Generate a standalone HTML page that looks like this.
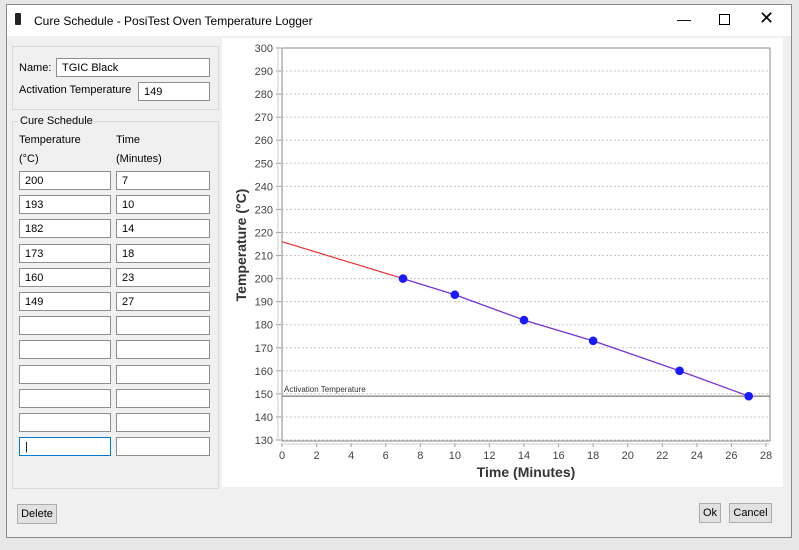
<!DOCTYPE html>
<html><head><style>
body{margin:0;width:799px;height:550px;background:#e8e8e8;font-family:"Liberation Sans",sans-serif;position:relative;overflow:hidden}
.a{position:absolute}
.win{left:6px;top:4px;width:784px;height:532px;background:#f0f0f0;border:1px solid #8a8a8a}
.tb{left:0;top:0;width:784px;height:31px;background:#fff}
.in{position:absolute;height:18px;background:#fff;border:1px solid #8e8e8e;font-size:11px;line-height:18px;padding-left:5px;box-sizing:border-box;height:19px}
.lb{position:absolute;font-size:11px;color:#000}
.btn{position:absolute;height:20px;border:1px solid #adadad;background:#e1e1e1;font-size:11px;line-height:19px;text-align:center;box-sizing:border-box}
</style></head><body>
<div class="a win">
 <div class="a tb">
  <div class="a" style="left:8px;top:8px;width:6px;height:12px;background:#222;border-radius:1px"></div>
  <div class="a" style="left:27px;top:9px;font-size:12px">Cure Schedule - PosiTest Oven Temperature Logger</div>
  <div class="a" style="left:670px;top:6px;font-size:14px">&#8212;</div>
  <div class="a" style="left:712px;top:9px;width:9px;height:9px;border:1px solid #000"></div>
  <div class="a" style="left:752px;top:3px;font-size:18px">&#10005;</div>
 </div>
</div>
<div class="a" style="left:12px;top:46px;width:205px;height:62px;border:1px solid #d8d8d8"></div>
<div class="lb" style="left:19px;top:62px">Name:</div>
<div class="in" style="left:56px;top:58px;width:154px">TGIC Black</div>
<div class="lb" style="left:19px;top:84px">Activation Temperature</div>
<div class="in" style="left:138px;top:82px;width:72px">149</div>
<div class="a" style="left:12px;top:121px;width:205px;height:366px;border:1px solid #d8d8d8"></div>
<div class="lb" style="left:18px;top:115px;background:#f0f0f0;padding:0 2px">Cure Schedule</div>
<div class="lb" style="left:19px;top:134px">Temperature</div>
<div class="lb" style="left:116px;top:134px">Time</div>
<div class="lb" style="left:19px;top:153px">(°C)</div>
<div class="lb" style="left:116px;top:153px">(Minutes)</div>
<div id="rows"></div>
<div class="btn" style="left:17px;top:504px;width:40px">Delete</div>
<div class="btn" style="left:699px;top:503px;width:22px">Ok</div>
<div class="btn" style="left:729px;top:503px;width:43px">Cancel</div>
<div class="a" style="left:222px;top:38px;width:561px;height:449px;background:#fff"></div>
<svg class="a" style="left:0;top:0" width="799" height="550" font-family="Liberation Sans, sans-serif">
<g id="g"></g>
</svg>
<script>
var rows=[["200","7"],["193","10"],["182","14"],["173","18"],["160","23"],["149","27"],["",""],["",""],["",""],["",""],["",""],["",""]];
var h="";rows.forEach(function(r,i){var y=171+i*24.2;
h+='<div class="in" style="left:19px;top:'+y+'px;width:92px'+(i==11?';border-color:#0078d7':'')+'">'+(i==11?'|':r[0])+'</div>';
h+='<div class="in" style="left:116px;top:'+y+'px;width:94px">'+r[1]+'</div>';});
document.getElementById('rows').innerHTML=h;
var X=function(t){return 282+t*(766-282)/28},Y=function(v){return 48+(300-v)*(440-48)/170};
var s='';
for(var v=130;v<=300;v+=10){var y=Y(v);s+='<line x1="282" x2="770" y1="'+y+'" y2="'+y+'" stroke="#c8c8c8" stroke-dasharray="2,2"/>';
s+='<line x1="276" x2="281" y1="'+y+'" y2="'+y+'" stroke="#999"/><text x="273" y="'+(y+4)+'" font-size="11" text-anchor="end" fill="#444">'+v+'</text>';}
for(var t=0;t<=28;t+=2){var x=X(t);s+='<line x1="'+x+'" x2="'+x+'" y1="443" y2="447" stroke="#999"/><text x="'+x+'" y="459" font-size="11" text-anchor="middle" fill="#444">'+t+'</text>';}
s+='<line x1="278" x2="278" y1="48" y2="440" stroke="#ccc"/><line x1="282" x2="770" y1="444" y2="444" stroke="#ccc"/>';
s+='<rect x="282" y="48" width="488" height="393" fill="none" stroke="#888"/>';
s+='<line x1="282" x2="770" y1="'+Y(149)+'" y2="'+Y(149)+'" stroke="#888" stroke-width="1.3"/>';
s+='<text x="284" y="'+(Y(149)-4)+'" font-size="8" fill="#333">Activation Temperature</text>';
var pts=[[7,200],[10,193],[14,182],[18,173],[23,160],[27,149]];
s+='<line x1="282" y1="'+Y(216)+'" x2="'+X(7)+'" y2="'+Y(200)+'" stroke="#e83030" stroke-width="1.2"/>';
s+='<polyline fill="none" stroke="#7a30d8" stroke-width="1.3" points="'+pts.map(function(p){return X(p[0])+','+Y(p[1])}).join(' ')+'"/>';
pts.forEach(function(p){s+='<circle cx="'+X(p[0])+'" cy="'+Y(p[1])+'" r="4.3" fill="#1a1aff"/>';});
s+='<text x="526" y="477" font-size="14" font-weight="bold" text-anchor="middle" fill="#333">Time (Minutes)</text>';
s+='<text transform="translate(246,245) rotate(-90)" font-size="14" font-weight="bold" text-anchor="middle" fill="#333">Temperature (°C)</text>';
document.getElementById('g').innerHTML=s;
</script>
</body></html>
